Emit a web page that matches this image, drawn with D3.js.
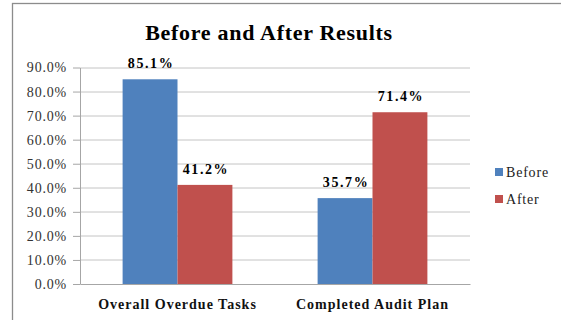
<!DOCTYPE html>
<html>
<head>
<meta charset="utf-8">
<script src="https://cdn.jsdelivr.net/npm/d3@7"></script>
<style>
    body { margin: 0; background: #fff; }
    text { font-family: "Liberation Serif", "Times New Roman", serif; }
</style>
</head>
<body>
<div id="vis"></div>
<script>
// Chart data
var categories = ['Overall Overdue Tasks', 'Completed Audit Plan'];
var series = ['Before', 'After'];
var beforeValues = [0.851, 0.357];
var afterValues = [0.412, 0.714];
var yTicks = [0, 0.1, 0.2, 0.3, 0.4, 0.5, 0.6, 0.7, 0.8, 0.9];
var colors = ['#4F81BD', '#C0504D'];

var serif = '"Liberation Serif", "Times New Roman", serif';

var width = 561;
var height = 320;
var margin = { left: 80, right: 91, top: 67.5, bottom: 36 };
var drawWidth = width - margin.left - margin.right;
var drawHeight = height - margin.top - margin.bottom;

var svg = d3.select('#vis').append('svg')
    .attr('width', width)
    .attr('height', height);

// Outer chart frame
svg.append('rect')
    .attr('x', 12.5).attr('y', 3.5)
    .attr('width', 600).attr('height', 400)
    .attr('fill', 'none')
    .attr('stroke', '#8c8c8c')
    .attr('stroke-width', 1.3);

// Title
svg.append('text')
    .attr('x', 269).attr('y', 40)
    .attr('text-anchor', 'middle')
    .style('font-size', '22px')
    .style('font-weight', 'bold')
    .style('letter-spacing', '0.7px')
    .text('Before and After Results');

var g = svg.append('g')
    .attr('transform', 'translate(' + margin.left + ',' + margin.top + ')');

// Scales
var x0 = d3.scaleBand()
    .domain(categories)
    .range([0, drawWidth])
    .paddingInner(0.437)
    .paddingOuter(0.2185);

var x1 = d3.scaleBand()
    .domain(series)
    .range([0, x0.bandwidth()]);

var yScale = d3.scaleLinear()
    .domain([0, 0.9])
    .range([drawHeight, 0]);

// Gridlines
g.selectAll('.grid').data(yTicks.slice(1)).enter().append('line')
    .attr('class', 'grid')
    .attr('x1', 0).attr('x2', drawWidth)
    .attr('y1', function(d) { return Math.round(yScale(d)) + 0.5; })
    .attr('y2', function(d) { return Math.round(yScale(d)) + 0.5; })
    .attr('stroke', '#c4c4c4')
    .attr('stroke-width', 1);

// Bars
var data = [];
categories.forEach(function(c, i) {
    data.push({ cat: c, series: 'Before', value: beforeValues[i] });
    data.push({ cat: c, series: 'After', value: afterValues[i] });
});

g.selectAll('.bar').data(data).enter().append('rect')
    .attr('class', 'bar')
    .attr('x', function(d) { return x0(d.cat) + x1(d.series); })
    .attr('y', function(d) { return yScale(d.value); })
    .attr('width', x1.bandwidth())
    .attr('height', function(d) { return drawHeight - yScale(d.value); })
    .attr('fill', function(d) { return colors[series.indexOf(d.series)]; });

// Data labels
g.selectAll('.label').data(data).enter().append('text')
    .attr('class', 'label')
    .attr('x', function(d) { return x0(d.cat) + x1(d.series) + x1.bandwidth() / 2 + 1; })
    .attr('y', function(d) { return yScale(d.value) - 11; })
    .attr('text-anchor', 'middle')
    .style('font-size', '14px')
    .style('font-weight', 'bold')
    .style('letter-spacing', '1.6px')
    .text(function(d) { return d3.format('.1%')(d.value); });

// Y axis
var yAxis = d3.axisLeft(yScale)
    .tickValues(yTicks)
    .tickFormat(d3.format('.1%'))
    .tickSize(7)
    .tickSizeOuter(0)
    .tickPadding(6);

var yAxisG = g.append('g').call(yAxis)
    .attr('font-family', serif)
    .attr('font-size', 14);
yAxisG.selectAll('path, line').attr('stroke', '#a6a6a6');
yAxisG.selectAll('text')
    .attr('fill', '#333')
    .style('letter-spacing', '0.8px');

// X axis
var xAxis = d3.axisBottom(x0).tickSize(0).tickPadding(15);
var xAxisG = g.append('g')
    .attr('transform', 'translate(0,' + drawHeight + ')')
    .call(xAxis)
    .attr('font-family', serif)
    .attr('font-size', 14);
xAxisG.select('.domain').attr('stroke', '#a6a6a6');
xAxisG.selectAll('text')
    .style('font-weight', 'bold')
    .style('letter-spacing', '1px')
    .attr('fill', '#111');

// Legend
var legend = svg.append('g').attr('transform', 'translate(495,0)');
series.forEach(function(s, i) {
    var ly = 172 + i * 27;
    legend.append('rect')
        .attr('x', 0).attr('y', ly - 4)
        .attr('width', 8).attr('height', 8)
        .attr('fill', colors[i]);
    legend.append('text')
        .attr('x', 11).attr('y', ly + 5)
        .style('font-size', '14px')
        .style('letter-spacing', '0.8px')
        .attr('fill', '#222')
        .text(s);
});
</script>
</body>
</html>
